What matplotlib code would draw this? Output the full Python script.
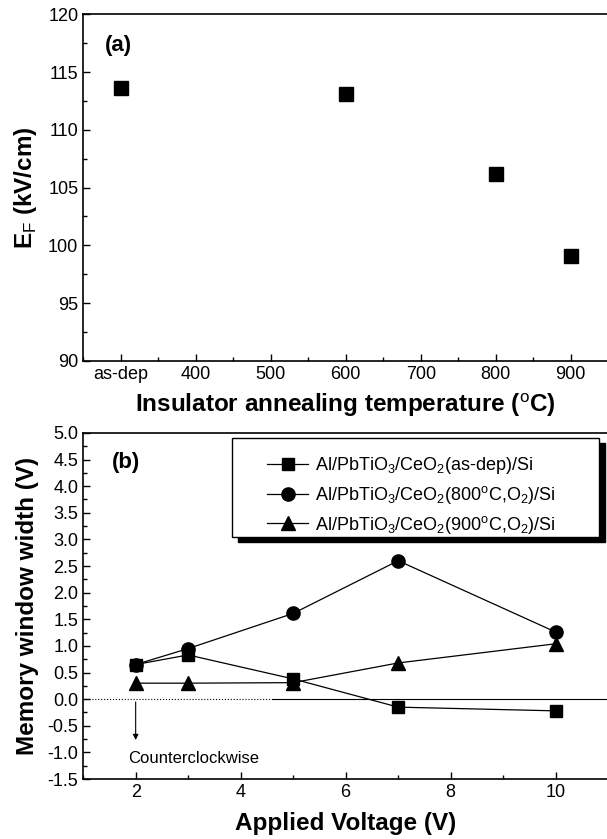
import numpy as np
import matplotlib
matplotlib.use('Agg')
import matplotlib.pyplot as plt
from matplotlib.ticker import MultipleLocator, FixedLocator, FormatStrFormatter
from matplotlib.patches import Rectangle

plt.rcParams['font.family'] = ['Liberation Sans', 'DejaVu Sans']
plt.rcParams['mathtext.fontset'] = 'custom'
plt.rcParams['mathtext.rm'] = 'Liberation Sans'
plt.rcParams['mathtext.bf'] = 'Liberation Sans:bold'

# (a) field vs annealing temperature
temp_pos = [300, 600, 800, 900]
ef_values = [113.6, 113.1, 106.2, 99.1]
temp_ticks = [300, 400, 500, 600, 700, 800, 900]
temp_labels = ['as-dep', '400', '500', '600', '700', '800', '900']

# (b) memory window vs applied voltage
voltage = [2, 3, 5, 7, 10]
mw_asdep = [0.65, 0.83, 0.38, -0.15, -0.22]
mw_800 = [0.65, 0.95, 1.61, 2.6, 1.26]
mw_900 = [0.3, 0.3, 0.31, 0.68, 1.04]
series_labels = [
    r'Al/PbTiO$_3$/CeO$_2$(as-dep)/Si',
    r'Al/PbTiO$_3$/CeO$_2$(800$^{\rm o}$C,O$_2$)/Si',
    r'Al/PbTiO$_3$/CeO$_2$(900$^{\rm o}$C,O$_2$)/Si',
]

fig = plt.figure(figsize=(6.07, 8.39), dpi=100)

# ---------- panel (a)
ax1 = fig.add_axes([0.137, 0.570, 0.865, 0.413])
ax1.plot(temp_pos, ef_values, 's', color='black', markersize=9.5, linestyle='none')
ax1.set_xlim(250, 950)
ax1.set_ylim(90, 120)
ax1.xaxis.set_major_locator(FixedLocator(temp_ticks))
ax1.set_xticklabels(temp_labels)
ax1.xaxis.set_minor_locator(MultipleLocator(50))
ax1.yaxis.set_major_locator(MultipleLocator(5))
ax1.yaxis.set_minor_locator(MultipleLocator(2.5))
ax1.set_xlabel('Insulator annealing temperature ($^{\\rm o}$C)', fontsize=17.5, fontweight='bold', labelpad=6)
ax1.set_ylabel(r'E$_{\rm F}$ (kV/cm)', fontsize=17.5, fontweight='bold')
ax1.yaxis.set_label_coords(-0.085, 0.5)
ax1.text(0.042, 0.895, '(a)', transform=ax1.transAxes, fontsize=16, fontweight='bold')

# ---------- panel (b)
ax2 = fig.add_axes([0.137, 0.0715, 0.865, 0.4125])
ax2.axhline(0, xmin=0, xmax=0.36, color='black', lw=0.8, ls=':')
ax2.axhline(0, xmin=0.36, xmax=1, color='black', lw=0.8)
h1, = ax2.plot(voltage, mw_asdep, '-s', color='black', lw=0.9, markersize=8.5)
h2, = ax2.plot(voltage, mw_800, '-o', color='black', lw=0.9, markersize=9.5)
h3, = ax2.plot(voltage, mw_900, '-^', color='black', lw=0.9, markersize=10)
ax2.set_xlim(1, 11)
ax2.set_ylim(-1.5, 5.0)
ax2.xaxis.set_major_locator(MultipleLocator(2))
ax2.xaxis.set_minor_locator(MultipleLocator(1))
ax2.yaxis.set_major_locator(MultipleLocator(0.5))
ax2.yaxis.set_minor_locator(MultipleLocator(0.25))
ax2.yaxis.set_major_formatter(FormatStrFormatter('%.1f'))
ax2.set_xlabel('Applied Voltage (V)', fontsize=17.5, fontweight='bold', labelpad=8)
ax2.set_ylabel('Memory window width (V)', fontsize=17.5, fontweight='bold')
ax2.yaxis.set_label_coords(-0.085, 0.5)
ax2.text(0.055, 0.9, '(b)', transform=ax2.transAxes, fontsize=16, fontweight='bold')

ax2.annotate('', xy=(2, -0.82), xytext=(2, 0),
             arrowprops=dict(arrowstyle='-|>', color='black', lw=0.8, mutation_scale=8))
ax2.text(1.86, -1.12, 'Counterclockwise', fontsize=12, va='center', ha='left')

# legend box with a solid black drop shadow
ax2.add_patch(Rectangle((0.294, 0.684), 0.699, 0.286, transform=ax2.transAxes,
                        facecolor='black', edgecolor='black', zorder=4))
ax2.add_patch(Rectangle((0.284, 0.699), 0.699, 0.286, transform=ax2.transAxes,
                        facecolor='white', edgecolor='black', lw=1.0, zorder=5))
leg = ax2.legend([h1, h2, h3], series_labels, loc='upper left', bbox_to_anchor=(0.35, 0.935),
                 fontsize=13, frameon=False, borderpad=0, borderaxespad=0,
                 handlelength=2.3, handletextpad=0.35, labelspacing=0.42)
leg.set_zorder(6)

for ax in (ax1, ax2):
    ax.tick_params(which='both', direction='in', top=False, right=False, labelsize=13, width=1)
    ax.tick_params(which='major', length=5)
    ax.tick_params(which='minor', length=3)
    for sp in ax.spines.values():
        sp.set_linewidth(1.2)

fig.savefig('out.png', dpi=100)
